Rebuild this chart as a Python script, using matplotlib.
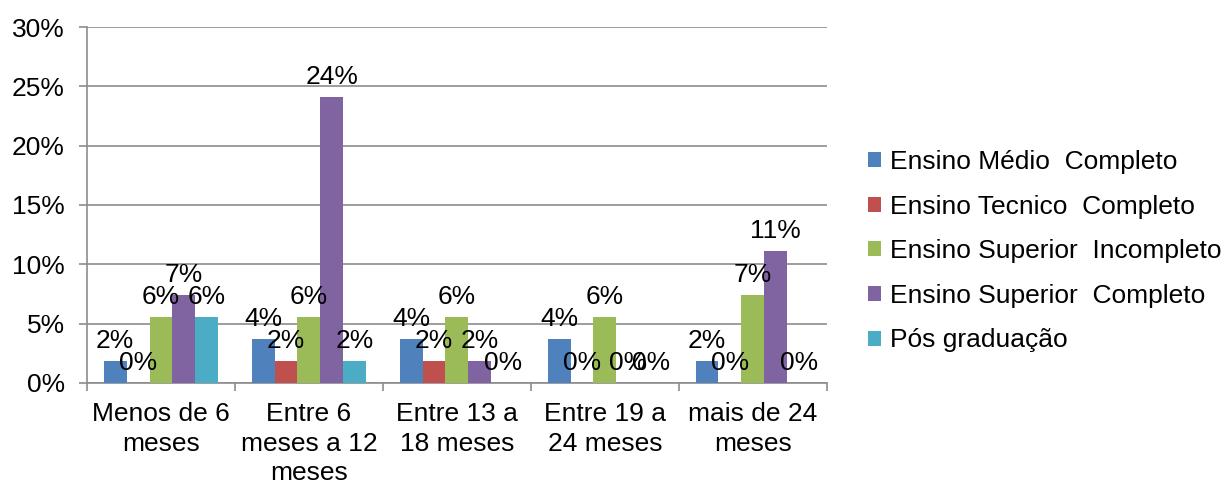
import numpy as np
import matplotlib.pyplot as plt
from matplotlib.ticker import FuncFormatter, FixedLocator

plt.rcParams['font.family'] = ['Liberation Sans', 'DejaVu Sans']

categories = ["Menos de 6\nmeses", "Entre 6\nmeses a 12\nmeses", "Entre 13 a\n18 meses",
              "Entre 19 a\n24 meses", "mais de 24\nmeses"]
series = ["Ensino Médio  Completo", "Ensino Tecnico  Completo", "Ensino Superior  Incompleto",
          "Ensino Superior  Completo", "Pós graduação"]
medio = [1.85, 3.70, 3.70, 3.70, 1.85]
tecnico = [0.0, 1.85, 1.85, 0.0, 0.0]
sup_inc = [5.56, 5.56, 5.56, 5.56, 7.41]
sup_comp = [7.41, 24.07, 1.85, 0.0, 11.11]
pos = [5.56, 1.85, 0.0, 0.0, 0.0]
colors = ["#4F81BD", "#C0504D", "#9BBB59", "#8064A2", "#4BACC6"]

fig = plt.figure(figsize=(12.27, 4.84), dpi=100)
ax = fig.add_axes([0.0709, 0.2087, 0.603, 0.7355])

fs = 19
x = np.arange(len(categories))
w = 0.155
for i, (name, vals) in enumerate(zip(series, [medio, tecnico, sup_inc, sup_comp, pos])):
    pos_x = x + (i - 2) * w
    ax.bar(pos_x, vals, w, color=colors[i], label=name, zorder=3)
    for px, v in zip(pos_x, vals):
        ax.annotate(f"{v:.0f}%", (px, v), xytext=(0, 6), textcoords="offset points",
                    ha="center", va="bottom", fontsize=fs, zorder=4)

ax.set_xlim(-0.5, len(categories) - 0.5)
ax.set_ylim(0, 30)
ax.set_yticks(np.arange(0, 31, 5))
ax.yaxis.set_major_formatter(FuncFormatter(lambda v, p: f"{v:.0f}%"))
ax.yaxis.grid(True, color="#8c8c8c", linewidth=1.2, zorder=0)
ax.set_xticks(x)
ax.set_xticklabels(categories, fontsize=fs, linespacing=1.27)
ax.xaxis.set_minor_locator(FixedLocator(np.arange(-0.5, len(categories), 1)))
ax.tick_params(axis="x", which="major", length=0, pad=14)
ax.tick_params(axis="x", which="minor", length=6, color="#8c8c8c", width=1.2)
ax.tick_params(axis="y", labelsize=fs, length=6, color="#8c8c8c", width=1.2, pad=10)
for s in ["top", "right"]:
    ax.spines[s].set_visible(False)
for s in ["left", "bottom"]:
    ax.spines[s].set_color("#8c8c8c")
    ax.spines[s].set_linewidth(1.2)

ax.legend(loc="center left", bbox_to_anchor=(1.03, 0.37), frameon=False, fontsize=fs,
          handlelength=0.5, handleheight=0.5, handletextpad=0.35, labelspacing=0.78,
          borderaxespad=0.3)

fig.savefig("out.png", dpi=100)
